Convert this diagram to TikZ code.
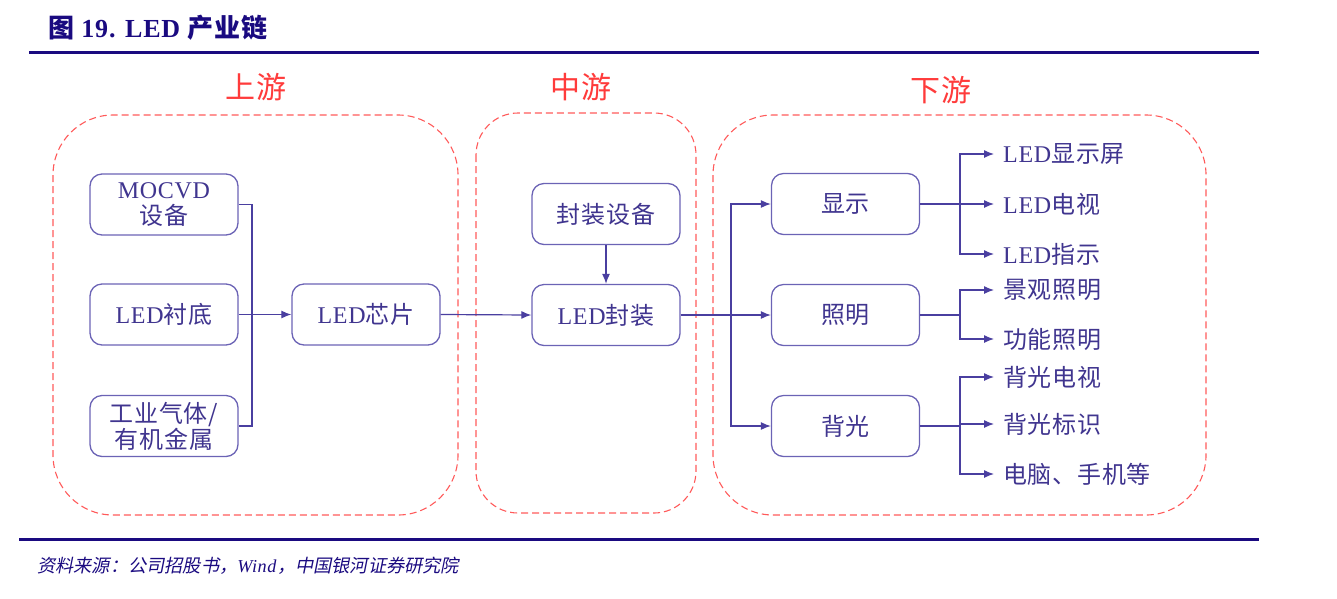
\documentclass[tikz,border=0pt]{standalone}
\usepackage{fontspec}
\setmainfont[LetterSpace=3]{Liberation Serif}
\newfontfamily\cjk[LetterSpace=3]{Noto Sans CJK SC}
\newfontfamily\cjkit[FakeSlant=0.2]{Noto Sans CJK SC}
\usetikzlibrary{arrows.meta}
\definecolor{navy}{HTML}{1A0A80}
\definecolor{boxline}{HTML}{6B63B5}
\definecolor{boxtext}{HTML}{40358F}
\definecolor{connc}{HTML}{4A3FA0}
\definecolor{zonered}{HTML}{FF5A5A}
\definecolor{zonelabel}{HTML}{FF3B3B}
\newcommand{\zhtxt}[1]{{\cjk #1}}
\tikzset{
  stagebox/.style={draw=boxline, line width=1.3pt, rounded corners=12pt,
    minimum width=148pt, minimum height=61pt, align=center, inner sep=2pt,
    text=boxtext, font=\fontsize{24}{28}\selectfont},
  zone/.style={draw=zonered, line width=1.1pt, dash pattern=on 7pt off 4pt},
  zonetitle/.style={text=zonelabel, font=\fontsize{30}{34}\selectfont\cjk},
  conn/.style={draw=connc, line width=1.2pt},
  arr/.style={conn, -{Latex[length=10pt,width=8pt]}},
  leaf/.style={anchor=west, inner xsep=9pt, inner ysep=0pt, text=boxtext,
    font=\fontsize{24}{28}\selectfont},
}
\begin{document}
\begin{tikzpicture}[x=1pt,y=-1pt]
\useasboundingbox (0,0) rectangle (1337,598);
% title
\node[anchor=west, text=navy, font=\fontsize{26}{30}\selectfont\bfseries, inner sep=0pt]
  (title) at (48,28) {\zhtxt{图} 19. LED \zhtxt{产业链}};
\draw[navy, line width=2.6pt] (29,52.7) -- (1259,52.7);
\draw[navy, line width=3pt] (19,539) -- (1259,539);
\node[anchor=west, text=navy, font=\fontsize{18.2}{22}\selectfont, inner sep=0pt]
  (source) at (37,566) {{\cjkit 资料来源：公司招股书，}\textit{Wind}{\cjkit ，中国银河证券研究院}};
% zones
\draw[zone, rounded corners=60pt] (53,115) rectangle (458,515);
\draw[zone, rounded corners=42pt] (476,113) rectangle (696,513);
\draw[zone, rounded corners=60pt] (713,115) rectangle (1206,515);
\node[zonetitle] (zup) at (256,87) {上游};
\node[zonetitle] (zmid) at (581,87) {中游};
\node[zonetitle] (zdown) at (941,90) {下游};
% upstream boxes
\node[stagebox] (mocvd) at (164,204.5) {MOCVD\\[-2pt]\zhtxt{设备}};
\node[stagebox] (sub) at (164,314.5) {LED\zhtxt{衬底}};
\node[stagebox] (gas) at (164,426) {\zhtxt{工业气体/}\\[-2pt]\zhtxt{有机金属}};
\node[stagebox] (chip) at (366,314.5) {LED\zhtxt{芯片}};
% midstream
\node[stagebox] (eqp) at (606,214) {\zhtxt{封装设备}};
\node[stagebox] (pkg) at (606,315) {LED\zhtxt{封装}};
% downstream
\node[stagebox] (disp) at (845.5,204) {\zhtxt{显示}};
\node[stagebox] (light) at (845.5,315) {\zhtxt{照明}};
\node[stagebox] (back) at (845.5,426) {\zhtxt{背光}};
% leaves
\node[leaf] (l1) at (994,154) {LED\zhtxt{显示屏}};
\node[leaf] (l2) at (994,204) {LED\zhtxt{电视}};
\node[leaf] (l3) at (994,254) {LED\zhtxt{指示}};
\node[leaf] (l4) at (994,290) {\zhtxt{景观照明}};
\node[leaf] (l5) at (994,339) {\zhtxt{功能照明}};
\node[leaf] (l6) at (994,377) {\zhtxt{背光电视}};
\node[leaf] (l7) at (994,424) {\zhtxt{背光标识}};
\node[leaf] (l8) at (994,474) {\zhtxt{电脑、手机等}};
% connectors
\coordinate (j1) at (252,314.5);
\draw[conn] (mocvd.east) -| (j1) |- (gas.east);
\draw[arr] (sub.east) -- (chip.west);
\draw[arr] (chip.east) -- (pkg.west);
\draw[arr] (eqp.south) -- (pkg.north);
\coordinate (j2) at (731,315);
\draw[conn] (pkg.east) -- (j2);
\draw[arr] (j2) |- (disp.west);
\draw[arr] (j2) -- (light.west);
\draw[arr] (j2) |- (back.west);
\coordinate (j3) at (960,204);
\coordinate (j4) at (960,315);
\coordinate (j5) at (960,426);
\draw[conn] (disp.east) -- (j3);
\draw[arr] (j3) |- (l1.west);
\draw[arr] (j3) -- (l2.west);
\draw[arr] (j3) |- (l3.west);
\draw[conn] (light.east) -- (j4);
\draw[arr] (j4) |- (l4.west);
\draw[arr] (j4) |- (l5.west);
\draw[conn] (back.east) -- (j5);
\draw[arr] (j5) |- (l6.west);
\draw[arr] (j5) |- (l7.west);
\draw[arr] (j5) |- (l8.west);
\end{tikzpicture}
\end{document}
